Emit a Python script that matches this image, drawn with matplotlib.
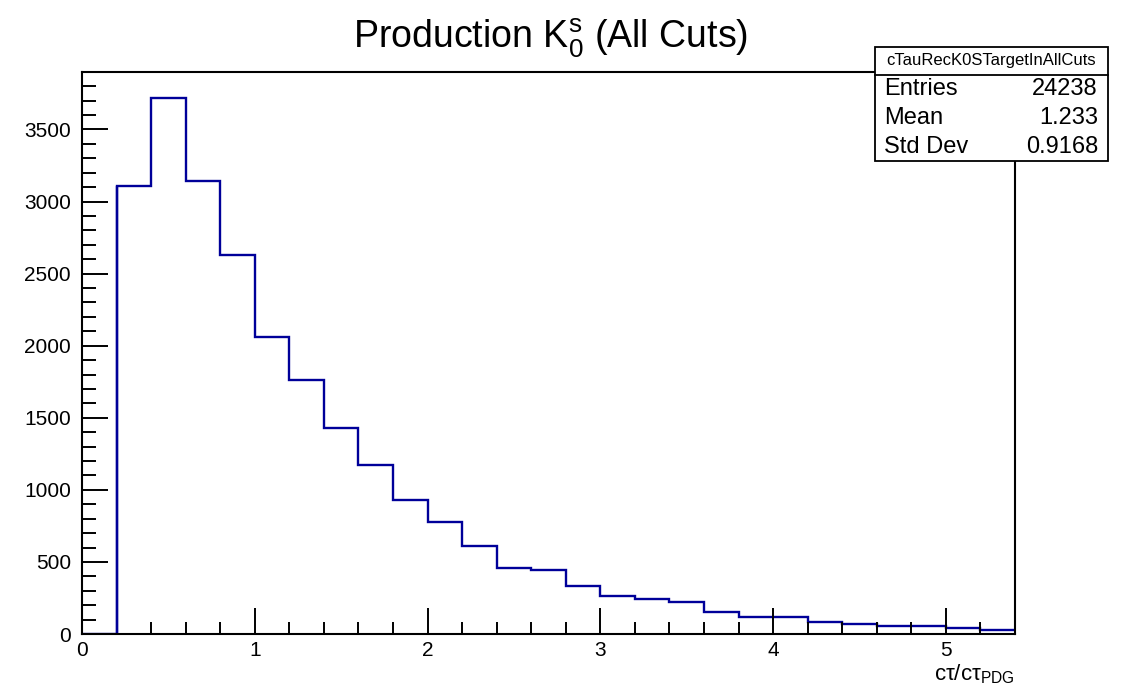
import numpy as np
import matplotlib
matplotlib.use("Agg")
import matplotlib.pyplot as plt
from matplotlib.ticker import MultipleLocator

plt.rcParams['font.family'] = ['Liberation Sans', 'DejaVu Sans']
plt.rcParams['mathtext.fontset'] = 'custom'
plt.rcParams['mathtext.rm'] = 'Liberation Sans'
plt.rcParams['mathtext.it'] = 'Liberation Sans:italic'

# Données : histogramme ct/ct_PDG, bins de 0.2
bin_edges = np.round(np.arange(0.0, 5.41, 0.2), 2)
counts = [0, 3110, 3715, 3140, 2630, 2060, 1760, 1430, 1170, 930, 780, 610,
          460, 445, 330, 265, 240, 220, 150, 115, 115, 85, 70, 55, 55, 40, 30]

stats_name = "cTauRecK0STargetInAllCuts"
stats_labels = ["Entries", "Mean", "Std Dev"]
stats_values = ["24238", "1.233", "0.9168"]

fig = plt.figure(figsize=(11.24, 6.96), dpi=100)
ax = fig.add_axes([0.073, 0.089, 0.830, 0.808])

ax.stairs(counts, bin_edges, color='#000099', linewidth=1.7, baseline=None)
# la ligne montante du premier bin non vide
first = next(i for i, c in enumerate(counts) if c > 0)
ax.vlines(bin_edges[first], 0, counts[first], color='#000099', linewidth=1.7)

ax.set_xlim(0, 5.4)
ax.set_ylim(0, max(counts) * 1.05)

ax.xaxis.set_major_locator(MultipleLocator(1))
ax.xaxis.set_minor_locator(MultipleLocator(0.2))
ax.yaxis.set_major_locator(MultipleLocator(500))
ax.yaxis.set_minor_locator(MultipleLocator(100))
ax.tick_params(which='both', direction='in', top=False, right=False, labelsize=15, width=1.4)
ax.tick_params(which='major', length=19)
ax.tick_params(axis='x', which='minor', length=8.5)
ax.tick_params(axis='y', which='minor', length=10)
ax.tick_params(axis='x', pad=5)
ax.tick_params(axis='y', pad=8)
for s in ax.spines.values():
    s.set_linewidth(1.5)

fig.text(0.49, 1 - 48 / 696, "Production $\\mathrm{K}^{\\mathrm{s}}_{0}$ (All Cuts)",
         ha='center', va='baseline', fontsize=27)
ax.text(1.0, -0.05, "cτ/cτ$_{\\mathrm{PDG}}$", transform=ax.transAxes,
        ha='right', va='top', fontsize=16)

# boîte de statistiques
bx0, bx1 = 875 / 1124, 1108 / 1124
by_top, by_hdr, by_bot = 1 - 47 / 696, 1 - 75 / 696, 1 - 161 / 696
fig.patches.append(plt.Rectangle((bx0, by_bot), bx1 - bx0, by_top - by_bot,
                                 transform=fig.transFigure, facecolor='white',
                                 edgecolor='black', linewidth=1.3, zorder=5))
fig.lines.append(plt.Line2D([bx0, bx1], [by_hdr, by_hdr], transform=fig.transFigure,
                            color='black', linewidth=1.3, zorder=6))
fig.text((bx0 + bx1) / 2, (by_top + by_hdr) / 2, stats_name, ha='center', va='center',
         fontsize=12, zorder=7)
row_h = (by_hdr - by_bot) / 3
for i, (lab, val) in enumerate(zip(stats_labels, stats_values)):
    yy = by_hdr - row_h * (i + 0.5)
    fig.text(bx0 + 0.008, yy, lab, ha='left', va='center', fontsize=17, zorder=7)
    fig.text(bx1 - 0.009, yy, val, ha='right', va='center', fontsize=17, zorder=7)

fig.savefig("out.png", dpi=100)
